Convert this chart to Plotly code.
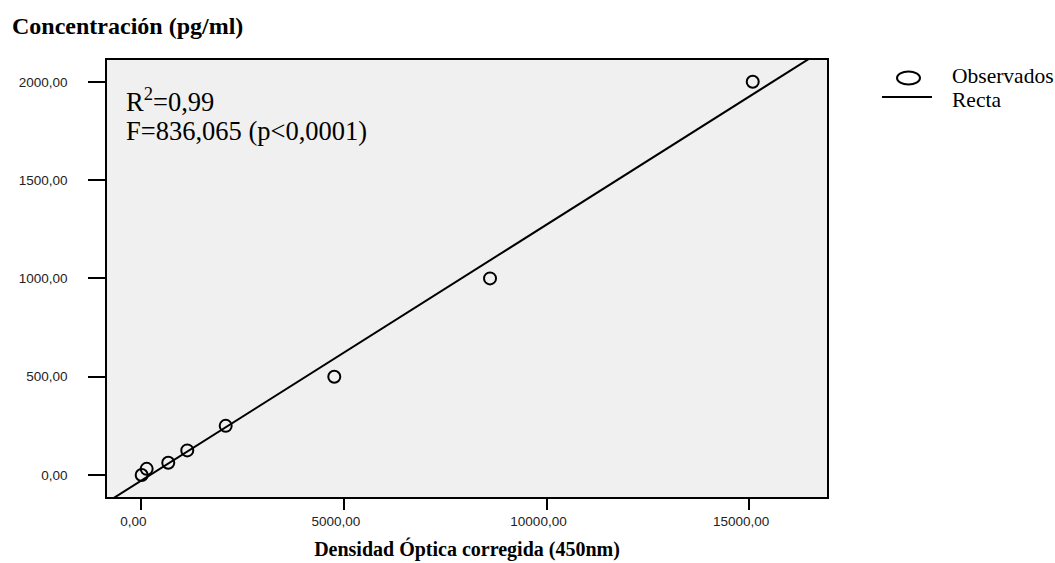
import plotly.graph_objects as go

# Data
densidad_optica = [10, 133, 666, 1135, 2083, 4763, 8606, 15089]
concentracion = [0, 31.25, 62.5, 125, 250, 500, 1000, 2000]

# fitted regression line (Recta)
recta_pendiente = 0.1302
recta_intercepto = -28.5
recta_x = [-1000, 17000]
recta_y = [recta_intercepto + recta_pendiente * v for v in recta_x]

x_tickvals = [0, 5000, 10000, 15000]
x_ticktext = ["0,00", "5000,00", "10000,00", "15000,00"]
y_tickvals = [0, 500, 1000, 1500, 2000]
y_ticktext = ["0,00", "500,00", "1000,00", "1500,00", "2000,00"]
legend_labels = ["Observados", "Recta"]

serif = "Liberation Serif"
sans = "Liberation Sans"

fig = go.Figure()
fig.add_trace(go.Scatter(
    x=densidad_optica, y=concentracion, mode="markers", name=legend_labels[0],
    showlegend=False,
    marker=dict(symbol="circle-open", size=12, color="black", line=dict(width=2, color="black")),
))
fig.add_trace(go.Scatter(
    x=recta_x, y=recta_y, mode="lines", name=legend_labels[1],
    showlegend=False,
    line=dict(color="black", width=2),
))

W, H = 1055, 563
L, R, T, B = 107, 827, 60, 497
pw, ph = R - L, B - T

def px2paper_x(px):
    return (px - L) / pw

def px2paper_y(py):
    return (B - py) / ph

# statistics text
fig.add_annotation(
    text="R<sup>2</sup>=0,99", xref="paper", yref="paper",
    x=px2paper_x(124), y=px2paper_y(100), xanchor="left", yanchor="middle",
    showarrow=False, font=dict(family=serif, size=26.5, color="black"),
)
fig.add_annotation(
    text="F=836,065 (p&lt;0,0001)", xref="paper", yref="paper",
    x=px2paper_x(124), y=px2paper_y(131), xanchor="left", yanchor="middle",
    showarrow=False, font=dict(family=serif, size=26.5, color="black"),
)

# legend (drawn outside the plot area)
fig.add_shape(type="circle", xref="paper", yref="paper",
              x0=px2paper_x(897), x1=px2paper_x(920),
              y0=px2paper_y(84.5), y1=px2paper_y(71.5),
              line=dict(color="black", width=2), fillcolor="rgba(0,0,0,0)")
fig.add_shape(type="line", xref="paper", yref="paper",
              x0=px2paper_x(882), x1=px2paper_x(932),
              y0=px2paper_y(97), y1=px2paper_y(97),
              line=dict(color="black", width=2))
fig.add_annotation(
    text=legend_labels[0], xref="paper", yref="paper",
    x=px2paper_x(950), y=px2paper_y(76), xanchor="left", yanchor="middle",
    showarrow=False, font=dict(family=serif, size=21.5, color="black"),
)
fig.add_annotation(
    text=legend_labels[1], xref="paper", yref="paper",
    x=px2paper_x(950), y=px2paper_y(100), xanchor="left", yanchor="middle",
    showarrow=False, font=dict(family=serif, size=21.5, color="black"),
)

fig.update_layout(
    width=W, height=H,
    margin=dict(l=L, r=W - R, t=T, b=H - B, pad=0, autoexpand=False),
    paper_bgcolor="white",
    plot_bgcolor="#F0F0F0",
    title=dict(
        text="Concentración (pg/ml)", xref="container", yref="container",
        x=12 / W, xanchor="left", y=1 - 26 / H, yanchor="middle",
        font=dict(family=serif, size=24, color="black", weight="bold"),
    ),
    showlegend=False,
    xaxis=dict(
        range=[-846, 16922], tickvals=x_tickvals, ticktext=x_ticktext,
        ticks="outside", ticklen=11, tickwidth=2, tickcolor="black",
        tickfont=dict(family=sans, size=13.5, color="#222"),
        ticklabelshift=-8, automargin=False,
        showgrid=False, zeroline=False,
        showline=True, linecolor="black", linewidth=1.5, mirror=True,
        title=dict(text="Densidad Óptica corregida (450nm)", standoff=14,
                   font=dict(family=serif, size=20, color="black", weight="bold")),
    ),
    yaxis=dict(
        range=[-112, 2111], tickvals=y_tickvals, ticktext=y_ticktext,
        ticks="outside", ticklen=17, tickwidth=2, tickcolor="black",
        tickfont=dict(family=sans, size=13.5, color="#222"),
        ticklabelstandoff=18, automargin=False,
        showgrid=False, zeroline=False,
        showline=True, linecolor="black", linewidth=1.5, mirror=True,
    ),
)

fig.write_html(
    "out.html",
    config={"displayModeBar": False},
    post_script="document.body.style.margin='0px';document.body.style.overflow='hidden';",
)
